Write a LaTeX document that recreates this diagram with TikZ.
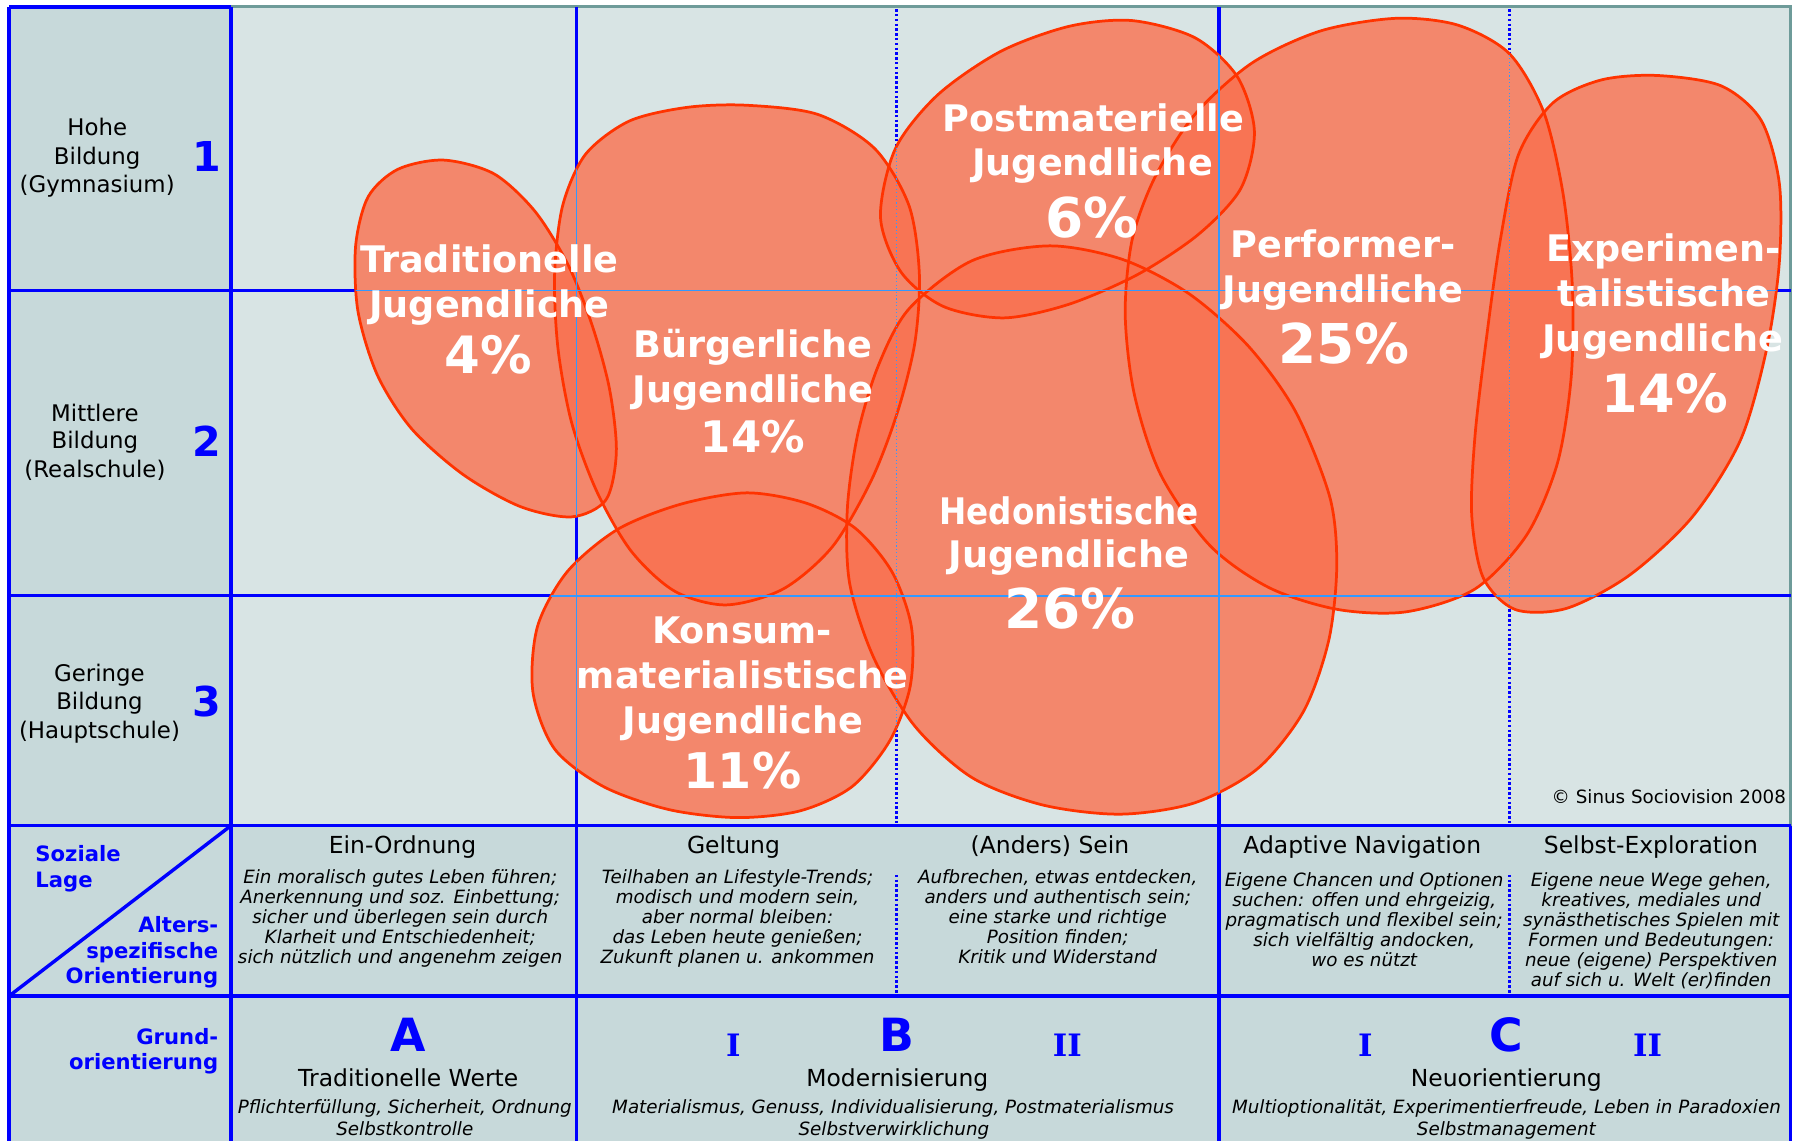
\documentclass[tikz,border=0pt]{standalone}
\usepackage{fontspec}
\usepackage{graphicx}
\setmainfont{DejaVu Sans}
\newfontfamily\numeralfont{DejaVu Serif}

\definecolor{chartbg}{RGB}{216,228,228}
\definecolor{sidebg}{RGB}{199,217,218}
\definecolor{gridblue}{RGB}{0,0,255}
\definecolor{thinblue}{RGB}{51,153,255}
\definecolor{frameteal}{RGB}{110,155,153}
\definecolor{blobfill}{RGB}{250,112,78}
\definecolor{blobline}{RGB}{255,51,0}

\tikzset{
  gridline/.style={draw=gridblue, line width=3pt},
  frameline/.style={draw=frameteal, line width=2.4pt},
  dotline/.style={draw=gridblue, line width=2.4pt, dash pattern=on 2.2pt off 2pt},
  overlayline/.style={draw=thinblue, line width=1.3pt},
  overlaydots/.style={draw=thinblue, line width=1.1pt, dash pattern=on 1pt off 2pt},
  blobshade/.style={fill=blobfill, fill opacity=0.8},
  bloboutline/.style={draw=blobline, line width=2.4pt},
  seglabel/.style={text=white, font=\fontsize{32}{38}\selectfont\bfseries, anchor=base, inner sep=0pt},
  pct/.style={text=white, font=\fontsize{#1}{#1}\selectfont\bfseries, anchor=base, inner sep=0pt},
  rowlabel/.style={text=black, font=\fontsize{20}{24}\selectfont, anchor=base, inner sep=0pt},
  rownum/.style={text=gridblue, font=\fontsize{36}{40}\selectfont\bfseries, anchor=base, inner sep=0pt},
  axislabel/.style={text=gridblue, font=\fontsize{18.5}{22}\selectfont\bfseries, inner sep=0pt},
  coltitle/.style={text=black, font=\fontsize{20.5}{24}\selectfont, anchor=base, inner sep=0pt},
  coltext/.style={text=black, font=\fontsize{16}{18}\selectfont\itshape, anchor=base, inner sep=0pt},
  bigletter/.style={text=gridblue, font=\fontsize{40}{44}\selectfont\bfseries, anchor=base, inner sep=0pt},
  subnum/.style={text=gridblue, font=\fontsize{27}{30}\selectfont\numeralfont\bfseries, anchor=base, inner sep=0pt},
  credit/.style={text=black, font=\fontsize{16}{18}\selectfont, anchor=base east, inner sep=0pt}
}

% outlines of the seven youth milieus
\def\blobTrad{plot[smooth cycle] coordinates {(388,140) (432,152) (468,185) (497,232) (518,285) (533,340) (539,395) (530,437) (500,452) (455,443) (405,415) (360,375) (330,328) (313,272) (311,215) (322,172) (348,148)}}
\def\blobBurg{plot[smooth cycle] coordinates {(652,92) (715,100) (765,130) (795,180) (804,240) (800,300) (785,360) (762,420) (728,478) (685,515) (635,529) (590,517) (552,482) (522,430) (500,370) (488,305) (485,240) (492,180) (512,135) (550,106) (600,94)}}
\def\blobPost{plot[smooth cycle] coordinates {(770,190) (783,130) (820,83) (875,45) (935,23) (990,18) (1045,33) (1082,67) (1097,115) (1085,165) (1048,205) (995,240) (935,266) (878,278) (825,268) (788,238)}}
\def\blobHed{plot[smooth cycle] coordinates {(918,215) (982,227) (1040,257) (1092,303) (1133,360) (1163,435) (1169,495) (1162,560) (1140,622) (1100,672) (1045,702) (980,712) (912,704) (850,680) (800,635) (764,575) (743,510) (741,445) (750,380) (768,320) (795,270) (850,228)}}
\def\blobPerf{plot[smooth cycle] coordinates {(1221,16) (1275,22) (1320,47) (1350,98) (1367,170) (1375,250) (1374,330) (1362,405) (1335,468) (1290,515) (1230,535) (1170,533) (1110,514) (1058,477) (1015,415) (992,345) (984,275) (990,210) (1010,155) (1045,100) (1095,55) (1155,27)}}
\def\blobExp{plot[smooth cycle] coordinates {(1449,66) (1505,75) (1540,105) (1556,160) (1556,230) (1545,305) (1522,385) (1480,452) (1425,503) (1370,532) (1325,533) (1297,505) (1287,450) (1290,380) (1300,295) (1312,210) (1328,135) (1358,90) (1400,70)}}
\def\blobKons{plot[smooth cycle] coordinates {(653,431) (705,440) (748,462) (780,500) (797,548) (796,600) (778,648) (745,688) (700,709) (645,715) (585,708) (528,688) (485,655) (466,605) (470,548) (496,500) (540,463) (595,441)}}

\begin{document}
\begin{tikzpicture}[x=1pt,y=-1pt]
\useasboundingbox (0,0) rectangle (1568,998);
\fill[white] (0,0) rectangle (1568,998);

% cell backgrounds
\fill[sidebg] (8,6) rectangle (202,998);
\fill[sidebg] (202,722) rectangle (1566,998);
\fill[chartbg] (202,6) rectangle (1566,722);

% grid
\draw[gridline] (8,6) -- (202,6);
\draw[frameline] (202,6) -- (1566,6) -- (1566,722);
\draw[gridline] (1566,722) -- (1566,998);
\foreach \x in {8,202,504,1066} \draw[gridline] (\x,6) -- (\x,998);
\foreach \y in {254,521,722,871} \draw[gridline] (8,\y) -- (1566,\y);
\draw[gridline] (8,871) -- (202,722);
\foreach \x in {784,1320} {
  \draw[dotline] (\x,8) -- (\x,720);
  \draw[dotline] (\x,765) -- (\x,869);
}

% milieu areas: clear the grid beneath, shade, outline
\fill[chartbg] \blobTrad \blobBurg \blobPost \blobHed \blobPerf \blobExp \blobKons;
\fill[blobshade] \blobTrad;
\fill[blobshade] \blobBurg;
\fill[blobshade] \blobPost;
\fill[blobshade] \blobHed;
\fill[blobshade] \blobPerf;
\fill[blobshade] \blobExp;
\fill[blobshade] \blobKons;
\draw[bloboutline] \blobTrad;
\draw[bloboutline] \blobBurg;
\draw[bloboutline] \blobPost;
\draw[bloboutline] \blobHed;
\draw[bloboutline] \blobPerf;
\draw[bloboutline] \blobExp;
\draw[bloboutline] \blobKons;

% grid lines seen through the areas
\begin{scope}
\clip \blobTrad \blobBurg \blobPost \blobHed \blobPerf \blobExp \blobKons;
\draw[overlayline] (202,254) -- (1566,254);
\draw[overlayline] (202,521) -- (1566,521);
\draw[overlayline] (504,6) -- (504,722);
\draw[overlayline] (1066,6) -- (1066,722);
\draw[overlaydots] (784,6) -- (784,722);
\draw[overlaydots] (1320,6) -- (1320,722);
\end{scope}

% milieu labels
\node[seglabel] (trad-1) at (428,237.9) {Traditionelle};
\node[seglabel] (trad-2) at (428,277.7) {Jugendliche};
\node[pct=45] (trad-p) at (427,326.5) {4\%};

\node[seglabel] (burg-1) at (658.6,312.4) {Bürgerliche};
\node[seglabel] (burg-2) at (658.6,351.6) {Jugendliche};
\node[pct=38] (burg-p) at (658.4,395.9) {14\%};

\node[seglabel] (post-1) at (956,114.8) {Postmaterielle};
\node[seglabel] (post-2) at (955.4,153.7) {Jugendliche};
\node[pct=48] (post-p) at (954.7,207.4) {6\%};

\node[seglabel] (perf-1) at (1174.5,225.6) {Performer-};
\node[seglabel] (perf-2) at (1174.5,264.9) {Jugendliche};
\node[pct=48] (perf-p) at (1175.5,317.7) {25\%};

\node[seglabel] (exp-1) at (1454.6,228.5) {Experimen-};
\node[seglabel] (exp-2) at (1455,267.8) {talistische};
\node[seglabel] (exp-3) at (1454,307) {Jugendliche};
\node[pct=46] (exp-p) at (1456,360.6) {14\%};

\node[seglabel] (hed-1) at (935,458.3) {\scalebox{0.89}[1]{Hedonistische}};
\node[seglabel] (hed-2) at (935,496.7) {Jugendliche};
\node[pct=48] (hed-p) at (935.7,550) {26\%};

\node[seglabel] (kons-1) at (649,562.6) {Konsum-};
\node[seglabel] (kons-2) at (649.5,601.9) {materialistische};
\node[seglabel] (kons-3) at (649.5,641.3) {Jugendliche};
\node[pct=43] (kons-p) at (649.4,689.4) {11\%};

\node[credit] (copy) at (1562,702.5) {© Sinus Sociovision 2008};

% social position (rows)
\node[rowlabel] (hoch-1) at (85,118.6) {Hohe};
\node[rowlabel] (hoch-2) at (85,143.7) {Bildung};
\node[rowlabel] (hoch-3) at (85,168.5) {(Gymnasium)};
\node[rownum] (num-1) at (180.6,150.1) {1};
\node[rowlabel] (mitt-1) at (83,368.6) {Mittlere};
\node[rowlabel] (mitt-2) at (83,392.6) {Bildung};
\node[rowlabel] (mitt-3) at (83,417.6) {(Realschule)};
\node[rownum] (num-2) at (180.6,399) {2};
\node[rowlabel] (ger-1) at (87,595.6) {Geringe};
\node[rowlabel] (ger-2) at (87,620.7) {Bildung};
\node[rowlabel] (ger-3) at (87,645.7) {(Hauptschule)};
\node[rownum] (num-3) at (180.6,627) {3};

% axis captions in the corner cells
\node[axislabel, anchor=base west] (soz-1) at (30.8,753.5) {Soziale};
\node[axislabel, anchor=base west] (soz-2) at (30.8,776) {Lage};
\node[axislabel, anchor=base east] (alt-1) at (191,815.6) {Alters-};
\node[axislabel, anchor=base east] (alt-2) at (191,838.1) {spezifische};
\node[axislabel, anchor=base east] (alt-3) at (191,860.5) {Orientierung};
\node[axislabel, anchor=base east] (grund-1) at (191,913.3) {Grund-};
\node[axislabel, anchor=base east] (grund-2) at (191,935.1) {orientierung};

% age-specific orientation
\node[coltitle] (ord-t) at (352,746.2) {Ein-Ordnung};
\node[coltext] (ord-1) at (350,772.5) {Ein moralisch gutes Leben führen;};
\node[coltext] (ord-2) at (350,790.1) {Anerkennung und soz. Einbettung;};
\node[coltext] (ord-3) at (350,807.7) {sicher und überlegen sein durch};
\node[coltext] (ord-4) at (350,825.3) {Klarheit und Entschiedenheit;};
\node[coltext] (ord-5) at (350,842.9) {sich nützlich und angenehm zeigen};

\node[coltitle] (gel-t) at (641.4,746.2) {Geltung};
\node[coltext] (gel-1) at (645,772.5) {Teilhaben an Lifestyle-Trends;};
\node[coltext] (gel-2) at (645,790.1) {modisch und modern sein,};
\node[coltext] (gel-3) at (645,807.7) {aber normal bleiben:};
\node[coltext] (gel-4) at (645,825.3) {das Leben heute genießen;};
\node[coltext] (gel-5) at (645,842.9) {Zukunft planen u. ankommen};

\node[coltitle] (sein-t) at (918.2,746.2) {(Anders) Sein};
\node[coltext] (sein-1) at (925,772.5) {Aufbrechen, etwas entdecken,};
\node[coltext] (sein-2) at (925,790.1) {anders und authentisch sein;};
\node[coltext] (sein-3) at (925,807.7) {eine starke und richtige};
\node[coltext] (sein-4) at (925,825.3) {Position finden;};
\node[coltext] (sein-5) at (925,842.9) {Kritik und Widerstand};

\node[coltitle] (nav-t) at (1191.3,746.2) {Adaptive Navigation};
\node[coltext] (nav-1) at (1193,775.4) {Eigene Chancen und Optionen};
\node[coltext] (nav-2) at (1193,792.9) {suchen: offen und ehrgeizig,};
\node[coltext] (nav-3) at (1193,810.4) {pragmatisch und flexibel sein;};
\node[coltext] (nav-4) at (1193,827.9) {sich vielfältig andocken,};
\node[coltext] (nav-5) at (1193,845.4) {wo es nützt};

\node[coltitle] (expl-t) at (1443.7,746.2) {Selbst-Exploration};
\node[coltext] (expl-1) at (1444,775.4) {Eigene neue Wege gehen,};
\node[coltext] (expl-2) at (1444,792.9) {kreatives, mediales und};
\node[coltext] (expl-3) at (1444,810.4) {synästhetisches Spielen mit};
\node[coltext] (expl-4) at (1444,827.9) {Formen und Bedeutungen:};
\node[coltext] (expl-5) at (1444,845.4) {neue (eigene) Perspektiven};
\node[coltext] (expl-6) at (1444,862.9) {auf sich u. Welt (er)finden};

% basic orientation
\node[bigletter] (grpA) at (357.3,919.7) {A};
\node[coltitle] (grpA-t) at (357,950.3) {Traditionelle Werte};
\node[coltext] (grpA-1) at (354,973.6) {Pflichterfüllung, Sicherheit, Ordnung};
\node[coltext] (grpA-2) at (354,992.6) {Selbstkontrolle};

\node[subnum] (grpB-i) at (641.4,924) {I};
\node[bigletter] (grpB) at (784.7,919.7) {B};
\node[subnum] (grpB-ii) at (933.4,924) {II};
\node[coltitle] (grpB-t) at (784.7,950.3) {Modernisierung};
\node[coltext] (grpB-1) at (781,973.6) {Materialismus, Genuss, Individualisierung, Postmaterialismus};
\node[coltext] (grpB-2) at (781.7,992.6) {Selbstverwirklichung};

\node[subnum] (grpC-i) at (1194,924) {I};
\node[bigletter] (grpC) at (1317.3,919.7) {C};
\node[subnum] (grpC-ii) at (1440.8,924) {II};
\node[coltitle] (grpC-t) at (1317.3,950.3) {Neuorientierung};
\node[coltext] (grpC-1) at (1317.4,973.6) {Multioptionalität, Experimentierfreude, Leben in Paradoxien};
\node[coltext] (grpC-2) at (1317.3,992.6) {Selbstmanagement};
\end{tikzpicture}
\end{document}
